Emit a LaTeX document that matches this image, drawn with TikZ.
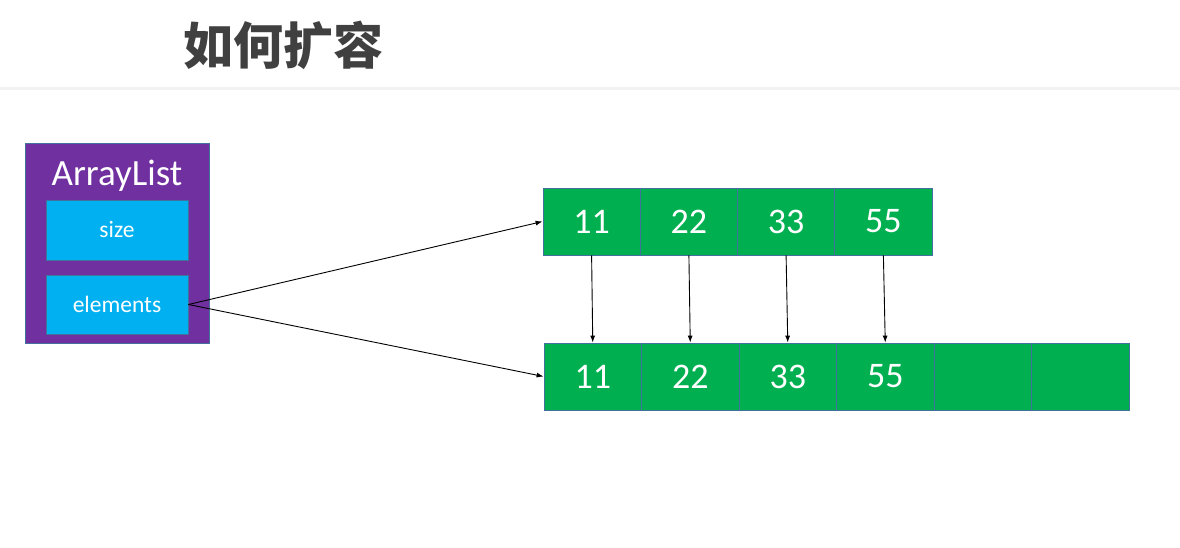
\documentclass[tikz,border=0pt]{standalone}
\usepackage{fontspec}
\setmainfont{Carlito}
\newfontfamily\cjk{Noto Sans CJK SC}
\usetikzlibrary{arrows.meta}
\definecolor{listpurple}{HTML}{7030A0}
\definecolor{fieldblue}{HTML}{00B0F0}
\definecolor{cellgreen}{HTML}{00B050}
\definecolor{edgeblue}{HTML}{41719C}
\definecolor{titlegray}{HTML}{404040}
\definecolor{rulegray}{HTML}{F2F2F2}
\begin{document}
\begin{tikzpicture}[x=1pt,y=-1pt,
    cell/.style={fill=cellgreen,draw=edgeblue,line width=0.8pt,minimum width=97.25pt,
      minimum height=67pt,inner sep=0pt,text=white,font=\fontsize{36}{40}\selectfont},
    field/.style={fill=fieldblue,draw=edgeblue,line width=0.8pt,minimum width=142pt,
      minimum height=60pt,inner sep=0pt,text=white,font=\fontsize{23.5}{26}\selectfont},
    link/.style={-{Latex[length=7pt,width=5pt]},line width=0.9pt}]
      \useasboundingbox (0,0) rectangle (1180,548);
      \fill[rulegray] (0,87) rectangle (1180,90);
      \draw
        (283,45) node[inner sep=0pt,text=titlegray,font=\cjk\bfseries\fontsize{50}{56}\selectfont] (title){如何扩容}
        (117,243) node[fill=listpurple,draw=edgeblue,line width=0.8pt,minimum width=184pt,minimum height=200pt] (list){}
        (117,176) node[text=white,inner sep=0pt,font=\fontsize{37}{42}\selectfont] (name){ArrayList}
        (117,230) node[field] (size){size}
        (117,304.5) node[field,minimum height=59pt] (elements){elements};
      % old array
      \draw
        (591.6,221.5) node[cell] (o1){11}
        (688.9,221.5) node[cell] (o2){22}
        (786.1,221.5) node[cell] (o3){33}
        (883.4,221.5) node[cell] (o4){55};
      % new array
      \draw
        (592.75,376.5) node[cell,minimum width=97.5pt] (n1){11}
        (690.25,376.5) node[cell,minimum width=97.5pt] (n2){22}
        (787.75,376.5) node[cell,minimum width=97.5pt] (n3){33}
        (885.25,376.5) node[cell,minimum width=97.5pt] (n4){55}
        (982.75,376.5) node[cell,minimum width=97.5pt] (n5){}
        (1080.25,376.5) node[cell,minimum width=97.5pt] (n6){};
      \begin{scope}[link]
        \draw (elements.east) -- (o1.west);
        \draw (elements.east) -- (n1.west);
        \draw (o1.south) -- (n1.north);
        \draw (o2.south) -- (n2.north);
        \draw (o3.south) -- (n3.north);
        \draw (o4.south) -- (n4.north);
      \end{scope}
    \end{tikzpicture}
\end{document}
